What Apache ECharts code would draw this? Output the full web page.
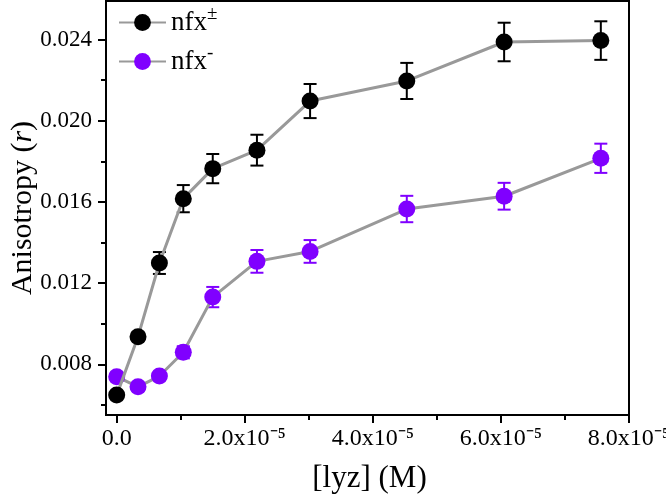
<!DOCTYPE html>
<html>
<head>
<meta charset="utf-8">
<script src="https://cdn.jsdelivr.net/npm/echarts@6/dist/echarts.min.js"></script>
<style>html,body{margin:0;padding:0;background:#fff;}#c{width:666px;height:495px;}</style>
</head>
<body>
<div id="c"></div>
<script>
// ---- data ----
var concentration = [0, 3.33e-6, 6.67e-6, 1.04e-5, 1.5e-5, 2.19e-5, 3.02e-5, 4.53e-5, 6.05e-5, 7.56e-5];
var nfxPM = [0.00648, 0.00936, 0.01299, 0.01616, 0.01764, 0.01855, 0.02097, 0.02196, 0.02388, 0.02395];
var nfxPMErr = [0.0002, 0.0002, 0.00054, 0.00067, 0.00072, 0.00076, 0.00084, 0.00089, 0.00095, 0.00095];
var nfxM = [0.00739, 0.00689, 0.00742, 0.00859, 0.01131, 0.01307, 0.01356, 0.01565, 0.01628, 0.01815];
var nfxMErr = [0.0002, 0.0002, 0.0002, 0.0003, 0.0005, 0.00056, 0.00056, 0.00065, 0.00066, 0.00072];
var xMajorTicks = [0, 2e-5, 4e-5, 6e-5, 8e-5];
var xMinorTicks = [1e-5, 3e-5, 5e-5, 7e-5];
var yMajorTicks = [0.008, 0.012, 0.016, 0.020, 0.024];
var yMinorTicks = [0.006, 0.010, 0.014, 0.018, 0.022];
var xTickLabels = {'0': '0.0', '2e-5': '2.0x10\u207B\u2075', '4e-5': '4.0x10\u207B\u2075', '6e-5': '6.0x10\u207B\u2075', '8e-5': '8.0x10\u207B\u2075'};

var serif = 'Liberation Serif';
var purple = '#8000ff';

function pairs(xs, ys) { return xs.map(function (x, i) { return [x, ys[i]]; }); }
function errData(xs, ys, es) { return xs.map(function (x, i) { return [x, ys[i] - es[i], ys[i] + es[i]]; }); }

function errRender(color) {
  return function (params, api) {
    var x = api.value(0);
    var lo = api.coord([x, api.value(1)]);
    var hi = api.coord([x, api.value(2)]);
    var cw = 6.5;
    var st = { stroke: color, lineWidth: 2 };
    return {
      type: 'group',
      children: [
        { type: 'line', shape: { x1: lo[0], y1: lo[1], x2: hi[0], y2: hi[1] }, style: st },
        { type: 'line', shape: { x1: lo[0] - cw, y1: lo[1], x2: lo[0] + cw, y2: lo[1] }, style: st },
        { type: 'line', shape: { x1: hi[0] - cw, y1: hi[1], x2: hi[0] + cw, y2: hi[1] }, style: st }
      ]
    };
  };
}

function xLabelFmt(v) {
  var key = v === 0 ? '0' : (Math.round(v * 1e5) + 'e-5');
  var s = xTickLabels[key];
  return s === undefined ? '' : s;
}

var chart = echarts.init(document.getElementById('c'), null, { renderer: 'canvas' });
var axisLineStyle = { color: '#000', width: 2 };
var option = {
  backgroundColor: '#fff',
  animation: false,
  textStyle: { fontFamily: serif, color: '#000' },
  grid: {
    left: 106, right: 37, top: 1, bottom: 80,
    show: true, borderColor: '#000', borderWidth: 2, backgroundColor: 'transparent',
    containLabel: false, outerBoundsMode: 'none'
  },
  legend: {
    data: ['nfx±', 'nfx-'],
    orient: 'vertical',
    left: 118, top: 5, padding: 0,
    itemWidth: 47, itemHeight: 21, itemGap: 8,
    formatter: function (name) {
      return name === 'nfx±' ? 'nfx{sup|±}' : 'nfx{sup|-}';
    },
    textStyle: {
      fontFamily: serif, fontSize: 27, color: '#000',
      rich: {
        sup: { fontFamily: serif, fontSize: 19, color: '#000', padding: [0, 0, 16, 0] }
      }
    }
  },
  xAxis: [{
    type: 'value', min: -1.67e-6, max: 8e-5,
    axisLine: { show: true, onZero: false, lineStyle: axisLineStyle },
    axisTick: { show: true, inside: false, length: 8, lineStyle: axisLineStyle, customValues: xMajorTicks },
    axisLabel: {
      customValues: xMajorTicks, margin: 12, formatter: xLabelFmt,
      fontFamily: serif, fontSize: 24, color: '#000'
    },
    splitLine: { show: false },
    name: '[lyz] (M)', nameLocation: 'middle', nameGap: 48, nameMoveOverlap: false,
    nameTextStyle: { fontFamily: serif, fontSize: 31, color: '#000', padding: [0, 0, 0, 4] }
  }, {
    type: 'value', min: -1.67e-6, max: 8e-5, position: 'bottom',
    axisLine: { show: false, onZero: false },
    axisTick: { show: true, inside: false, length: 5, lineStyle: axisLineStyle, customValues: xMinorTicks },
    axisLabel: { show: false },
    splitLine: { show: false }
  }],
  yAxis: [{
    type: 'value', min: 0.0055, max: 0.0259,
    axisLine: { show: true, onZero: false, lineStyle: axisLineStyle },
    axisTick: { show: true, inside: false, length: 8, lineStyle: axisLineStyle, customValues: yMajorTicks },
    axisLabel: {
      customValues: yMajorTicks, margin: 14,
      formatter: function (v) { return v.toFixed(3); },
      fontFamily: serif, fontSize: 23, color: '#000'
    },
    splitLine: { show: false },
    name: 'Anisotropy ({it|r})', nameLocation: 'middle', nameGap: 68, nameMoveOverlap: false,
    nameTextStyle: {
      fontFamily: serif, fontSize: 30, color: '#000',
      rich: { it: { fontFamily: serif, fontSize: 30, fontStyle: 'italic', color: '#000' } }
    }
  }, {
    type: 'value', min: 0.0055, max: 0.0259, position: 'left',
    axisLine: { show: false, onZero: false },
    axisTick: { show: true, inside: false, length: 5, lineStyle: axisLineStyle, customValues: yMinorTicks },
    axisLabel: { show: false },
    splitLine: { show: false }
  }],
  series: [
    {
      name: 'errPM', type: 'custom', z: 3,
      renderItem: errRender('#000'),
      data: errData(concentration, nfxPM, nfxPMErr)
    },
    {
      name: 'errM', type: 'custom', z: 3,
      renderItem: errRender(purple),
      data: errData(concentration, nfxM, nfxMErr)
    },
    {
      name: 'nfx±', type: 'line', z: 5,
      data: pairs(concentration, nfxPM),
      symbol: 'circle', symbolSize: 17,
      itemStyle: { color: '#000' },
      lineStyle: { color: '#999', width: 3 }
    },
    {
      name: 'nfx-', type: 'line', z: 4,
      data: pairs(concentration, nfxM),
      symbol: 'circle', symbolSize: 17,
      itemStyle: { color: purple },
      lineStyle: { color: '#999', width: 3 }
    }
  ]
};
chart.setOption(option);
</script>
</body>
</html>
